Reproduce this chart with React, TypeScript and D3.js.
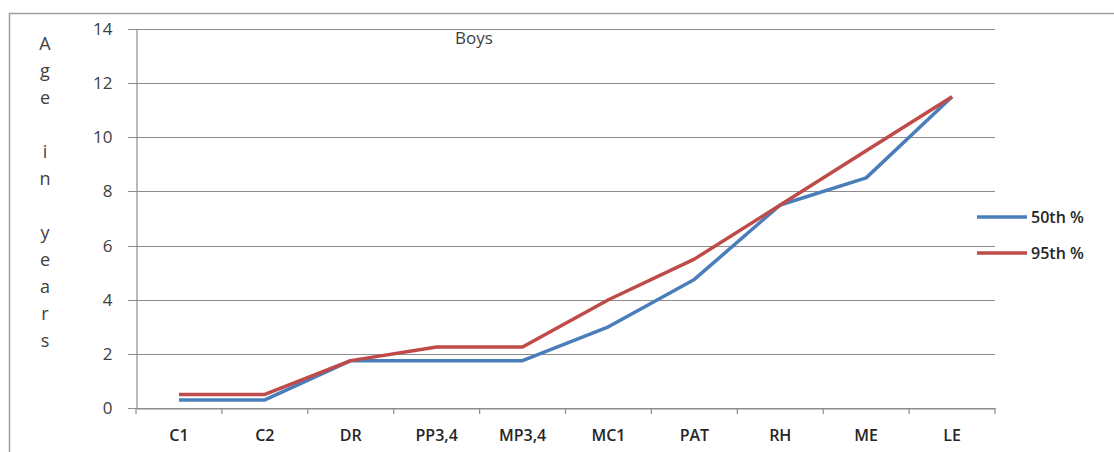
import { useEffect, useRef } from "react";
import { select, scaleLinear, scaleBand, line, axisLeft, axisBottom, range } from "d3";

// Chart data
const categories = ["C1", "C2", "DR", "PP3,4", "MP3,4", "MC1", "PAT", "RH", "ME", "LE"];
const p50 = [0.3, 0.3, 1.75, 1.75, 1.75, 3, 4.75, 7.5, 8.5, 11.5];
const p95 = [0.5, 0.5, 1.75, 2.25, 2.25, 4, 5.5, 7.5, 9.5, 11.5];
const yTicks = [0, 2, 4, 6, 8, 10, 12, 14];
const seriesNames = ["50th %", "95th %"];
const yTitle = ["A", "g", "e", "", "i", "n", "", "y", "e", "a", "r", "s"];

const W = 1114;
const H = 452;
const FONT = "'Open Sans', 'Noto Sans', sans-serif";
const colors = ["#4a7ebb", "#be4b48"];

const App = () => {
    const svgRef = useRef<SVGSVGElement | null>(null);

    useEffect(() => {
        const svg = select(svgRef.current);
        svg.selectAll("*").remove();

        const left = 136, right = 995, top = 29, bottom = 408;

        const x = scaleBand<string>().domain(categories).range([left, right]);
        const y = scaleLinear().domain([0, 14]).range([bottom, top]);

        // outer frame
        svg.append("rect")
            .attr("x", 9.5).attr("y", 13.5)
            .attr("width", W).attr("height", H)
            .attr("fill", "none").attr("stroke", "#a0a0a0").attr("stroke-width", 1.5);

        // grid lines
        svg.append("g")
            .selectAll("line")
            .data(yTicks)
            .join("line")
            .attr("x1", left - 8).attr("x2", right)
            .attr("y1", d => Math.round(y(d)) + 0.5).attr("y2", d => Math.round(y(d)) + 0.5)
            .attr("stroke", "#8c8c8c").attr("stroke-width", 1.2);

        // Y axis
        const yAxis = axisLeft(y).tickValues(yTicks).tickSize(0).tickPadding(24);
        const gy = svg.append("g").attr("transform", `translate(${left + 0.5},0)`).call(yAxis);
        gy.select(".domain").attr("stroke", "#8c8c8c").attr("stroke-width", 1.2);
        gy.selectAll("text")
            .attr("font-family", FONT).attr("font-size", 17).attr("fill", "#404040");

        // X axis
        const xAxis = axisBottom(x).tickSize(0).tickPadding(21);
        const gx = svg.append("g").attr("transform", `translate(0,${bottom + 0.5})`).call(xAxis);
        gx.select(".domain").attr("stroke", "#8c8c8c").attr("stroke-width", 1.2);
        gx.selectAll("text")
            .attr("font-family", FONT).attr("font-size", 16).attr("font-weight", 600).attr("fill", "#262626");
        svg.append("g")
            .selectAll("line")
            .data(range(categories.length + 1))
            .join("line")
            .attr("x1", i => left + i * x.step()).attr("x2", i => left + i * x.step())
            .attr("y1", bottom).attr("y2", bottom + 6)
            .attr("stroke", "#8c8c8c").attr("stroke-width", 1.2);

        // series lines
        const lineGen = line<number>()
            .x((_, i) => (x(categories[i]) as number) + x.bandwidth() / 2)
            .y(d => y(d));
        [p50, p95].forEach((s, i) => {
            svg.append("path")
                .attr("d", lineGen(s))
                .attr("fill", "none")
                .attr("stroke", colors[i])
                .attr("stroke-width", 3.5)
                .attr("stroke-linejoin", "round");
        });

        // title
        svg.append("text")
            .attr("x", 455).attr("y", 44)
            .attr("font-family", FONT).attr("font-size", 17).attr("fill", "#404040")
            .text("Boys");

        // Y title, stacked letters
        svg.append("g")
            .selectAll("text")
            .data(yTitle)
            .join("text")
            .attr("x", 45).attr("y", (_, i) => 50 + i * 27)
            .attr("text-anchor", "middle")
            .attr("font-family", FONT).attr("font-size", 18).attr("fill", "#404040")
            .text(d => d);

        // legend
        const lg = svg.append("g")
            .selectAll("g")
            .data(seriesNames)
            .join("g")
            .attr("transform", (_, i) => `translate(977,${217 + i * 36})`);
        lg.append("line")
            .attr("x1", 0).attr("x2", 50).attr("y1", 0).attr("y2", 0)
            .attr("stroke", (_, i) => colors[i]).attr("stroke-width", 3.5);
        lg.append("text")
            .attr("x", 54).attr("y", 6)
            .attr("font-family", FONT).attr("font-size", 16).attr("font-weight", 600).attr("fill", "#262626")
            .text(d => d);
    }, []);

    return (
        <div style={{ position: "absolute", left: 0, top: 0 }}>
            <svg ref={svgRef} width={W} height={H} style={{ display: "block", background: "#fff" }}></svg>
        </div>
    );
};

export default App;
